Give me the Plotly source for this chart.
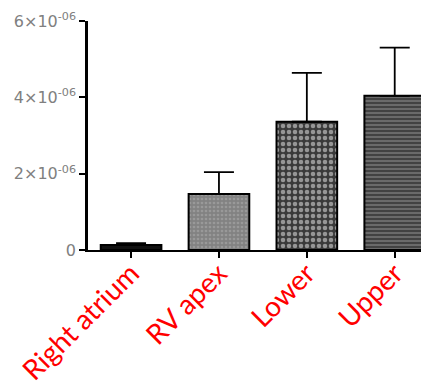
import plotly.graph_objects as go

categories = ["Right atrium", "RV apex", "Lower", "Upper"]
means = [0.13e-6, 1.47e-6, 3.36e-6, 4.04e-6]
errors_up = [0.05e-6, 0.57e-6, 1.28e-6, 1.26e-6]
y_tickvals = [0, 2e-6, 4e-6, 6e-6]
y_ticktext = ["0", "2×10<sup>-06</sup>", "4×10<sup>-06</sup>", "6×10<sup>-06</sup>"]

fill_colors = ["#111111", "#8c8c8c", "#ffffff", "#444444"]
patterns = [
    dict(shape=""),
    dict(shape=".", fgcolor="#b0b0b0", bgcolor="#828282", size=4, solidity=0.35),
    dict(shape=".", fgcolor="#f2f2f2", bgcolor="#3a3a3a", size=6, solidity=0.45),
    dict(shape="-", fgcolor="#1a1a1a", bgcolor="#6a6a6a", size=4, solidity=0.5),
]

fig = go.Figure()
for i, cat in enumerate(categories):
    fig.add_trace(go.Bar(
        x=[cat], y=[means[i]],
        marker=dict(color=fill_colors[i], pattern=patterns[i],
                    line=dict(color="black", width=2)),
        error_y=dict(type="data", array=[errors_up[i]], arrayminus=[0],
                     symmetric=False, color="black", thickness=1.8, width=15),
        width=0.69,
        showlegend=False,
    ))

# page body has an 8px margin, so the figure is sized to fill the rest
fig.update_layout(
    width=421, height=382,
    margin=dict(l=80, r=0, t=13, b=140),
    plot_bgcolor="white", paper_bgcolor="white",
    barmode="overlay",
)
fig.update_xaxes(
    range=[-0.49, 3.39], showline=True, linecolor="black", linewidth=2,
    ticks="outside", ticklen=6, tickwidth=2, tickcolor="black",
    tickangle=-45, tickfont=dict(family="Lato", size=28, color="red"),
    ticklabelstandoff=-12,
    showgrid=False, zeroline=False, automargin=False,
)
fig.update_yaxes(
    range=[0, 6e-6], showline=True, linecolor="black", linewidth=2.5,
    ticks="outside", ticklen=6, tickwidth=2, tickcolor="black",
    tickvals=y_tickvals, ticktext=y_ticktext,
    tickfont=dict(family="DejaVu Sans", size=16, color="#808080"),
    showgrid=False, zeroline=False, automargin=False,
)

fig.write_html("out.html")
